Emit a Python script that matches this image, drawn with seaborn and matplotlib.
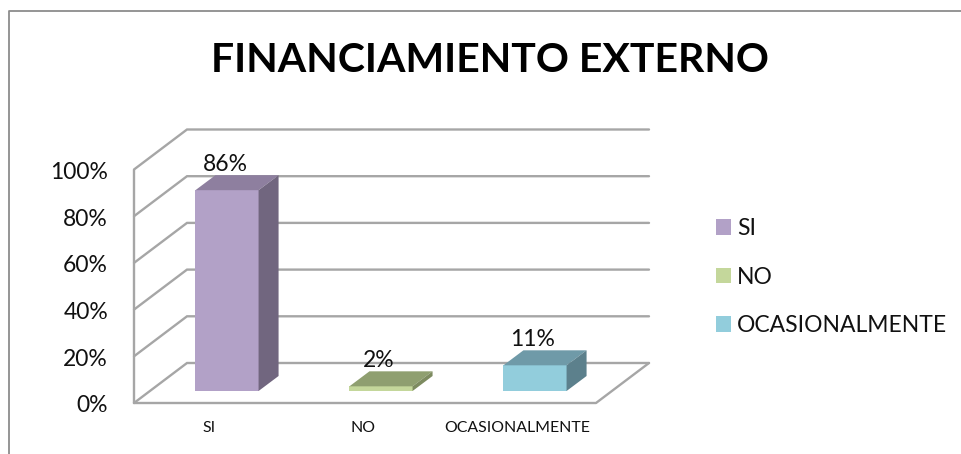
import matplotlib
matplotlib.use('Agg')
import matplotlib.pyplot as plt
import pandas as pd
import seaborn as sns
from matplotlib.lines import Line2D
from matplotlib.patches import Polygon

categories = ['SI', 'NO', 'OCASIONALMENTE']
values = [86, 2, 11]
labels = ['86%', '2%', '11%']
y_ticks = [0, 20, 40, 60, 80, 100]
front_colors = ['#B2A1C7', '#C4D79B', '#92CDDC']
top_colors = ['#8E7F9F', '#8F9F70', '#6F9AA8']
side_colors = ['#71667F', '#7D8B60', '#5C808C']

W, H = 961, 454
GRID = '#A6A6A6'
FRAME = '#8C8C8C'

sns.set_theme(style='white')
plt.rcParams['font.family'] = ['Lato', 'DejaVu Sans']

df = pd.DataFrame({'Respuesta': categories, 'Porcentaje': values})

fig = plt.figure(figsize=(W / 100, H / 100), dpi=100, facecolor='white')
# axes is the plane of the bars' front faces, the walls are shifted from it
ax = fig.add_axes([150 / W, (H - 391) / H, 462 / W, 233.5 / H])

sns.barplot(data=df, x='Respuesta', y='Porcentaje', hue='Respuesta',
            palette=front_colors, order=categories, hue_order=categories,
            dodge=False, width=0.41, saturation=1, linewidth=0, ax=ax, zorder=4)
ax.set_xlim(-0.5, 2.5)
ax.set_ylim(0, 100)

# size of one pixel in data units
px = 3 / 462
py = 100 / 233.5


def shifted(x, y, dx, dy):
    return x + dx * px, y + dy * py


# depth of the walls relative to the bar plane, in pixels
fx, fy = -16, -12
bx, by = 37, 28

for v in y_ticks:
    p0 = shifted(-0.5, v, fx, fy)
    p1 = shifted(-0.5, v, bx, by)
    p2 = shifted(2.5, v, bx, by)
    ax.plot([p0[0], p1[0], p2[0]], [p0[1], p1[1], p2[1]], color=GRID, lw=1.7,
            clip_on=False, zorder=1, solid_joinstyle='miter')
    ax.text(p0[0] - 26 * px, p0[1] - 1 * py, f'{v}%', ha='right', va='center_baseline',
            fontsize=16.5, color='#111111', clip_on=False)

# floor and left edge
f0 = shifted(-0.5, 0, fx, fy)
f1 = shifted(2.5, 0, fx, fy)
f2 = shifted(2.5, 0, bx, by)
ax.plot([f0[0], f1[0], f2[0]], [f0[1], f1[1], f2[1]], color=GRID, lw=1.7,
        clip_on=False, zorder=1)
t0 = shifted(-0.5, 100, fx, fy)
ax.plot([f0[0], t0[0]], [f0[1], t0[1]], color=GRID, lw=1.7, clip_on=False, zorder=1)

# top and side faces of each bar, taken from the bars seaborn drew
bars = [c[0] for c in ax.containers]
for bar, top, side, lab in zip(bars, top_colors, side_colors, labels):
    x0 = bar.get_x()
    x1 = x0 + bar.get_width()
    h = bar.get_height()
    ddx, ddy = 20 * px, 15 * py
    ax.add_patch(Polygon([(x0, h), (x1, h), (x1 + ddx, h + ddy), (x0 + ddx, h + ddy)],
                         closed=True, fc=top, ec='none', clip_on=False, zorder=4))
    ax.add_patch(Polygon([(x1, 0), (x1 + ddx, ddy), (x1 + ddx, h + ddy), (x1, h)],
                         closed=True, fc=side, ec='none', clip_on=False, zorder=4))
    ax.annotate(lab, (x0 + bar.get_width() / 2, h), xytext=(-1.5, 14),
                textcoords='offset points', ha='center', va='baseline',
                fontsize=16.5, color='#111111', zorder=6, annotation_clip=False)

# category labels sit on the front edge of the floor
for i, name in enumerate(categories):
    x, y = shifted(i, 0, -18, -37)
    ax.text(x, y, name, ha='center', va='center', fontsize=11.4, color='#111111',
            clip_on=False)

handles = [plt.Rectangle((0, 0), 1, 1, fc=c, ec='none') for c in front_colors]
ax.legend(handles, categories, loc='upper left', bbox_to_anchor=(716 / W, (H - 218) / H),
          bbox_transform=fig.transFigure, frameon=False, fontsize=16.5,
          handlelength=0.66, handleheight=0.66, handletextpad=0.26, labelspacing=1.2,
          borderpad=0, borderaxespad=0, labelcolor='#111111')

ax.set_axis_off()

fig.text(490 / W, (H - 61) / H, 'FINANCIAMIENTO EXTERNO', ha='center', va='center',
         fontsize=29.5, fontweight='bold', color='black')

# chart frame, cropped at right and bottom
fig.add_artist(Line2D([8.5 / W, 8.5 / W, 1], [0, (H - 11) / H, (H - 11) / H],
                      transform=fig.transFigure, color=FRAME, lw=1.3))

fig.savefig('out.png', dpi=100)
